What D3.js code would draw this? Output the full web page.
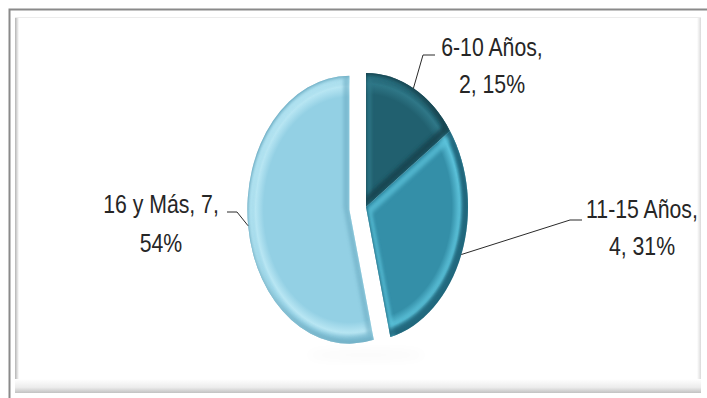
<!DOCTYPE html>
<html>
<head>
<meta charset="utf-8">
<script src="https://cdn.jsdelivr.net/npm/d3@7"></script>
<style>
  html, body { margin: 0; padding: 0; background: #ffffff; }
  svg { display: block; }
  text { font-family: "Liberation Sans", Arial, sans-serif; }
</style>
</head>
<body>
<svg id="chart" width="707" height="398"></svg>
<script>
// Antigüedad: number of people per seniority bracket
const categories = ["6-10 Años", "11-15 Años", "16 y Más"];
const values = [2, 4, 7];

// slice styling
const baseColors = ["#21606f", "#348fa8", "#93d0e4"];
const rimColors  = ["#123f4b", "#1c5f73", "#6aaac1"];
const lightColors = ["#2f7787", "#5cc2da", "#b8e6f3"];
const explodedSlice = [false, false, true];

const W = 707, H = 398;
const cx = 366, cy = 207;     // pie centre
const ry = 134, rx = 102;     // pie drawn as a tall ellipse
const sx = rx / ry;
const explodeDist = 22;
const textSquash = 0.85;      // narrow the label face horizontally

// label block placement (centre x of text, first baseline) and leader elbows
const labelLayout = [
  { x: 492, y: 56,  elbow: [423, 55], tail: [435, 55] },
  { x: 642, y: 218, elbow: [570, 220], tail: [582, 220] },
  { x: 161, y: 213, elbow: [237, 212], tail: [227, 212] }
];

const svg = d3.select("#chart");
const defs = svg.append("defs");

// ---- frame ----
svg.append("rect").attr("x", 0).attr("y", 0).attr("width", W).attr("height", H).attr("fill", "#fff");
svg.append("rect")
  .attr("x", 9.5).attr("y", 9.5).attr("width", W + 20).attr("height", H + 20)
  .attr("fill", "none").attr("stroke", "#8a8a8a").attr("stroke-width", 2);

const bottomGrad = defs.append("linearGradient").attr("id", "bevelBottom")
  .attr("x1", 0).attr("y1", 0).attr("x2", 0).attr("y2", 1);
bottomGrad.append("stop").attr("offset", 0).attr("stop-color", "#ffffff");
bottomGrad.append("stop").attr("offset", 0.6).attr("stop-color", "#ececec");
bottomGrad.append("stop").attr("offset", 1).attr("stop-color", "#c2c2c2");
const leftGrad = defs.append("linearGradient").attr("id", "bevelLeft")
  .attr("x1", 0).attr("y1", 0).attr("x2", 1).attr("y2", 0);
leftGrad.append("stop").attr("offset", 0).attr("stop-color", "#b4b4b4");
leftGrad.append("stop").attr("offset", 1).attr("stop-color", "#ffffff");
const rightGrad = defs.append("linearGradient").attr("id", "bevelRight")
  .attr("x1", 0).attr("y1", 0).attr("x2", 1).attr("y2", 0);
rightGrad.append("stop").attr("offset", 0).attr("stop-color", "#ffffff");
rightGrad.append("stop").attr("offset", 1).attr("stop-color", "#dadada");

svg.append("rect").attr("x", 15).attr("y", 17).attr("width", 4).attr("height", 376).attr("fill", "url(#bevelLeft)");
svg.append("rect").attr("x", 697).attr("y", 17).attr("width", 4).attr("height", 376).attr("fill", "url(#bevelRight)");
svg.append("rect").attr("x", 15).attr("y", 379).attr("width", 686).attr("height", 14).attr("fill", "url(#bevelBottom)");
svg.append("line").attr("x1", 15).attr("x2", 701).attr("y1", 17.5).attr("y2", 17.5)
  .attr("stroke", "#ececec").attr("stroke-width", 1);

// ---- pie ----
const total = d3.sum(values);
const pct = d3.format(".0%");
const pie = d3.pie().sort(null).value(d => d)(values);
const arc = d3.arc().innerRadius(0).outerRadius(ry);

// slice offsets in screen space
function offsetOf(d, i) {
  if (!explodedSlice[i]) return [0, 0];
  const a = (d.startAngle + d.endAngle) / 2;
  return [Math.sin(a) * explodeDist * sx, -Math.cos(a) * explodeDist];
}

const blur = defs.append("filter").attr("id", "soft").attr("x", "-20%").attr("y", "-20%")
  .attr("width", "140%").attr("height", "140%");
blur.append("feGaussianBlur").attr("stdDeviation", 2.2);

const shadowF = defs.append("filter").attr("id", "shadowBlur").attr("x", "-50%").attr("y", "-50%")
  .attr("width", "200%").attr("height", "200%");
shadowF.append("feGaussianBlur").attr("stdDeviation", 6);

// faint shadow under the pie
svg.append("ellipse").attr("cx", cx).attr("cy", cy + ry + 14).attr("rx", 60).attr("ry", 5)
  .attr("fill", "#000").attr("opacity", 0.025).attr("filter", "url(#shadowBlur)");

pie.forEach((d, i) => {
  const [ox, oy] = offsetOf(d, i);
  const g = svg.append("g")
    .attr("transform", `translate(${cx + ox},${cy + oy}) scale(${sx},1)`);

  const grad = defs.append("radialGradient").attr("id", "sliceGrad" + i)
    .attr("gradientUnits", "userSpaceOnUse").attr("cx", 0).attr("cy", 0).attr("r", ry);
  grad.append("stop").attr("offset", 0).attr("stop-color", baseColors[i]);
  grad.append("stop").attr("offset", 0.84).attr("stop-color", baseColors[i]);
  grad.append("stop").attr("offset", 0.92).attr("stop-color", lightColors[i]);
  grad.append("stop").attr("offset", 0.965).attr("stop-color", baseColors[i]);
  grad.append("stop").attr("offset", 1).attr("stop-color", rimColors[i]);

  const pathD = arc(d);
  defs.append("clipPath").attr("id", "clip" + i).append("path").attr("d", pathD);

  g.append("path").attr("d", pathD).attr("fill", `url(#sliceGrad${i})`);

  // bevel: light along upper-left edges, shade along lower-right edges
  const bev = g.append("g").attr("clip-path", `url(#clip${i})`);
  bev.append("path").attr("d", pathD)
    .attr("transform", "translate(4,4)")
    .attr("fill", "none").attr("stroke", lightColors[i]).attr("stroke-width", 7)
    .attr("opacity", 0.75).attr("filter", "url(#soft)");
  bev.append("path").attr("d", pathD)
    .attr("transform", "translate(-4,-3)")
    .attr("fill", "none").attr("stroke", rimColors[i]).attr("stroke-width", 8)
    .attr("opacity", i === 2 ? 0.55 : 0.8).attr("filter", "url(#soft)");
});

// ---- labels with leader lines ----
pie.forEach((d, i) => {
  const [ox, oy] = offsetOf(d, i);
  const a = (d.startAngle + d.endAngle) / 2;
  const rim = [cx + ox + Math.sin(a) * ry * sx, cy + oy - Math.cos(a) * ry];
  const L = labelLayout[i];
  svg.append("path")
    .attr("d", d3.line()([rim, L.elbow, L.tail]))
    .attr("fill", "none").attr("stroke", "#2a2a2a").attr("stroke-width", 1);

  const t = svg.append("g")
    .attr("transform", `translate(${L.x},${L.y}) scale(${textSquash},1)`)
    .append("text")
    .attr("text-anchor", "middle")
    .attr("font-size", 25).attr("fill", "#262626");
  const line1 = i === 2 ? `${categories[i]}, ${values[i]},` : `${categories[i]},`;
  const line2 = i === 2 ? pct(values[i] / total) : `${values[i]}, ${pct(values[i] / total)}`;
  t.append("tspan").attr("x", 0).attr("y", 0).text(line1);
  t.append("tspan").attr("x", 0).attr("y", i === 2 ? 39 : 37).text(line2);
});
</script>
</body>
</html>
